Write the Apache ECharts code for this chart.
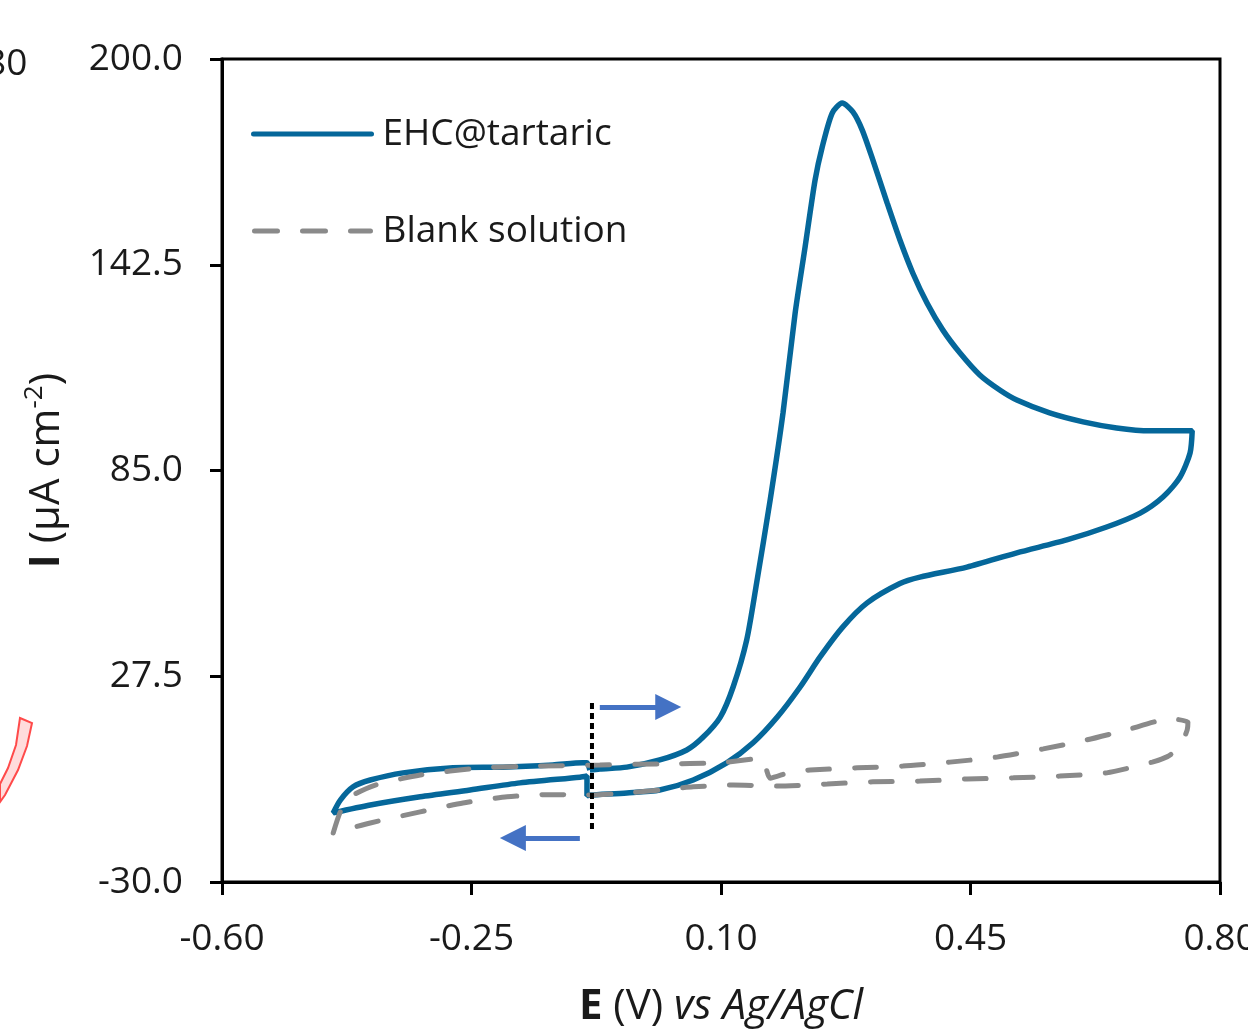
<!DOCTYPE html>
<html>
<head>
<meta charset="utf-8">
<script src="https://cdn.jsdelivr.net/npm/echarts@6/dist/echarts.min.js"></script>
<style>
  html, body { margin: 0; padding: 0; background: #fff; }
  #chart { width: 1248px; height: 1033px; }
</style>
</head>
<body>
<div id="chart"></div>
<script>
// EHC@tartaric cyclic voltammogram (E in V, I in uA cm-2), in scan order
const ehcE = [
  -0.084, -0.070, -0.032, 0.014, 0.052, 0.075, 0.099, 0.117, 0.136, 0.150, 0.169,
  0.187, 0.204, 0.218, 0.232, 0.242, 0.256, 0.270,
  0.285, 0.298, 0.313, 0.333, 0.351, 0.369, 0.389, 0.411, 0.435, 0.463, 0.491,
  0.515, 0.561, 0.608, 0.655, 0.702, 0.761,
  0.758, 0.744, 0.720, 0.688, 0.641, 0.585, 0.515, 0.445, 0.379, 0.351, 0.305,
  0.271, 0.239, 0.211, 0.179, 0.145, 0.108, 0.061, 0.014, -0.032, -0.084, -0.088, -0.088,
  -0.098, -0.182, -0.252, -0.322, -0.392, -0.444, -0.434, -0.416, -0.392, -0.346, -0.276, -0.206,
  -0.136, -0.094, -0.088, -0.084
]
const ehcI = [
  1.3, 1.6, 2.1, 4.1, 6.9, 10.5, 16.1, 24.5, 37.6, 53.6, 76.8,
  101.1, 129.0, 147.5, 166.2, 175.4, 184.9, 187.7,
  185.2, 180.2, 171.8, 159.8, 149.4, 140.2, 131.8, 124.3, 117.9, 111.7, 107.5,
  104.7, 101.1, 98.6, 96.9, 96.1, 96.1,
  89.9, 83.2, 77.6, 73.1, 69.2, 65.6, 62.0, 58.0, 55.2, 53.4, 48.0,
  41.3, 32.9, 24.5, 16.1, 8.9, 3.3, -1.5, -4.3, -5.1, -5.7, -5.9, -0.4,
  -0.7, -2.3, -4.3, -6.2, -8.5, -10.7, -7.1, -3.4, -1.5, 0.5, 1.9, 2.1,
  2.7, 3.3, 3.3, 1.3
]

// Blank solution
const blankE = [
  -0.444, -0.434, -0.420, -0.385, -0.322, -0.238, -0.154, -0.070, 0.014, 0.099, 0.157, 0.169,
  0.197, 0.225, 0.291, 0.355, 0.421, 0.487, 0.552, 0.613, 0.669, 0.730, 0.755,
  0.754, 0.748, 0.730, 0.705, 0.641, 0.575, 0.510, 0.445, 0.379, 0.313, 0.249, 0.179,
  0.117, 0.061, 0.014, -0.032, -0.088, -0.144, -0.200, -0.262, -0.322, -0.392, -0.444
]
const blankI = [
  -16.3, -10.4, -6.2, -2.9, -0.1, 1.9, 2.4, 2.7, 3.0, 3.3, 4.6, -1.0,
  0.7, 1.3, 1.9, 2.4, 3.5, 4.9, 7.2, 9.7, 12.5, 15.6, 14.7,
  12.5, 9.7, 5.5, 3.5, 0.5, -0.4, -0.9, -1.2, -1.8, -2.0, -2.6, -3.2,
  -2.9, -3.4, -4.3, -5.1, -5.7, -5.6, -6.2, -7.9, -10.4, -13.5, -16.3
]

// start potential marker and scan direction arrows
const startLine = [[-0.081, 20.0], [-0.081, -16.3]]
const arrowFwd = [[-0.070, 18.9], [0.026, 18.9]]
const arrowRev = [[-0.098, -17.7], [-0.192, -17.7]]

const xTicks = [-0.60, -0.25, 0.10, 0.45, 0.80]
const yTicks = [-30.0, 27.5, 85.0, 142.5, 200.0]

const FONT = 'Open Sans'
const BLUE = '#05679a'
const GREY = '#8a8a8a'
const zip = (a, b) => a.map((v, i) => [v, b[i]])

const chart = echarts.init(document.getElementById('chart'))
chart.setOption({
  animation: false,
  backgroundColor: '#fff',
  textStyle: { fontFamily: FONT },
  grid: {
    left: 222,
    right: 28,
    top: 59,
    bottom: 151,
    outerBoundsMode: 'none',
    containLabel: false,
    show: true,
    borderColor: '#000',
    borderWidth: 3
  },
  legend: {
    data: [
      { name: 'EHC@tartaric', icon: 'path://M2,0h118a2,2,0,0,1,0,5h-118a2,2,0,0,1,0,-5z' },
      { name: 'Blank solution', icon: 'path://M2,0h23a2,2,0,0,1,0,5h-23a2,2,0,0,1,0,-5z M50,0h23a2,2,0,0,1,0,5h-23a2,2,0,0,1,0,-5z M98,0h20a2,2,0,0,1,0,5h-20a2,2,0,0,1,0,-5z' }
    ],
    orient: 'vertical',
    left: 246,
    top: 106,
    itemWidth: 124,
    itemHeight: 5,
    itemGap: 51,
    textStyle: {
      fontFamily: FONT,
      fontSize: 37,
      color: '#1a1a1a',
      lineHeight: 46,
      padding: [0, 0, 0, 3]
    }
  },
  xAxis: {
    type: 'value',
    min: -0.6,
    max: 0.8,
    name: '{b|E}{n| (V) }{i|vs Ag/AgCl}',
    nameLocation: 'middle',
    nameGap: 104,
    nameTextStyle: {
      rich: {
        b: { fontFamily: FONT, fontSize: 42, fontWeight: 'bold', color: '#1a1a1a' },
        n: { fontFamily: FONT, fontSize: 42, color: '#1a1a1a' },
        i: { fontFamily: FONT, fontSize: 42, fontStyle: 'italic', color: '#1a1a1a' }
      }
    },
    axisLine: { onZero: false, lineStyle: { color: '#000', width: 3 } },
    axisTick: {
      show: true,
      length: 13,
      customValues: xTicks,
      lineStyle: { color: '#000', width: 3 }
    },
    axisLabel: {
      customValues: xTicks,
      formatter: v => v.toFixed(2),
      margin: 39,
      fontFamily: FONT,
      fontSize: 37,
      color: '#1a1a1a'
    },
    splitLine: { show: false }
  },
  yAxis: {
    type: 'value',
    min: -30,
    max: 200,
    name: '{b|I}{n| (µA cm}{s|-2}{n|)}',
    nameLocation: 'middle',
    nameGap: 150,
    nameTextStyle: {
      rich: {
        b: { fontFamily: FONT, fontSize: 42, fontWeight: 'bold', color: '#1a1a1a', lineHeight: 50 },
        n: { fontFamily: FONT, fontSize: 42, color: '#1a1a1a', lineHeight: 50 },
        s: { fontFamily: FONT, fontSize: 26, color: '#1a1a1a', verticalAlign: 'top', lineHeight: 50 }
      }
    },
    axisLine: { onZero: false, lineStyle: { color: '#000', width: 3 } },
    axisTick: {
      show: true,
      length: 12,
      customValues: yTicks,
      lineStyle: { color: '#000', width: 3 }
    },
    axisLabel: {
      customValues: yTicks,
      formatter: v => v.toFixed(1),
      margin: 39,
      fontFamily: FONT,
      fontSize: 37,
      color: '#1a1a1a'
    },
    splitLine: { show: false }
  },
  series: [
    {
      name: 'EHC@tartaric',
      type: 'line',
      data: zip(ehcE, ehcI),
      showSymbol: false,
      symbol: 'none',
      smooth: 0.25,
      z: 3,
      lineStyle: { color: BLUE, width: 5.5 },
      itemStyle: { color: BLUE }
    },
    {
      name: 'Blank solution',
      type: 'line',
      data: zip(blankE, blankI),
      showSymbol: false,
      symbol: 'none',
      smooth: 0.2,
      z: 4,
      lineStyle: { color: GREY, width: 5, type: [22, 25], cap: 'round' },
      itemStyle: { color: GREY }
    },
    {
      name: 'start',
      type: 'line',
      data: startLine,
      showSymbol: false,
      symbol: 'none',
      z: 5,
      lineStyle: { color: '#000', width: 4, type: [6, 4] },
      markLine: {
        silent: true,
        symbol: ['none', 'triangle'],
        symbolSize: 26,
        label: { show: false },
        lineStyle: { color: '#4472c4', width: 5, type: 'solid' },
        data: [
          [{ coord: arrowFwd[0] }, { coord: arrowFwd[1] }],
          [{ coord: arrowRev[0] }, { coord: arrowRev[1] }]
        ]
      }
    }
  ],
  graphic: [
    {
      // partial label cut off from the neighbouring panel
      type: 'text',
      left: -15,
      top: 46,
      style: { text: '80', fontFamily: FONT, fontSize: 37, fill: '#1a1a1a' }
    },
    {
      type: 'polygon',
      shape: { points: [[20, 718], [32, 723], [27, 746], [18, 770], [5, 795], [0, 802], [0, 784], [8, 768], [16, 745]] },
      style: { fill: 'rgba(255, 60, 60, 0.18)', stroke: '#ff4a4a', lineWidth: 2 }
    }
  ]
})
</script>
</body>
</html>
